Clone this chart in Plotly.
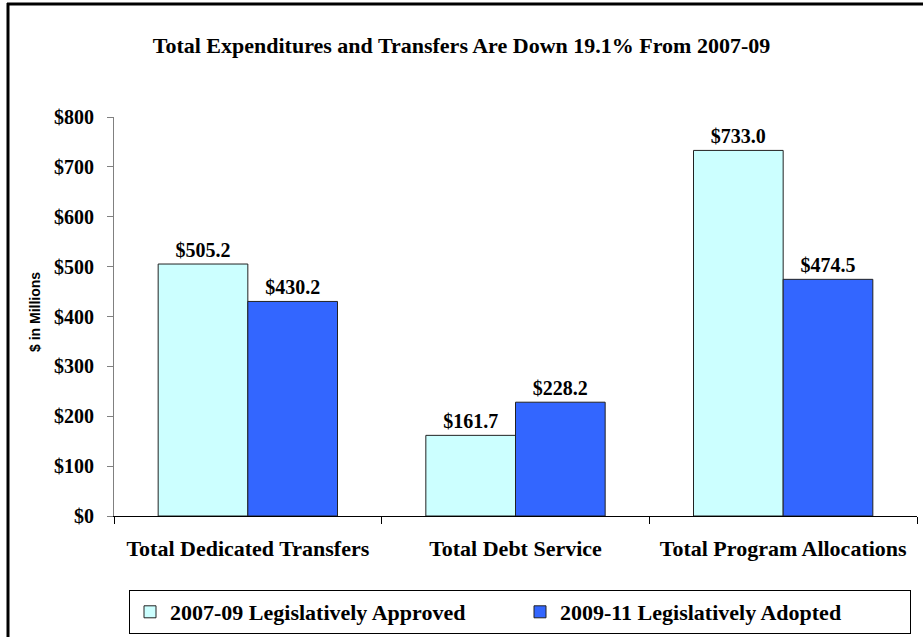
import plotly.graph_objects as go

categories = ["Total Dedicated Transfers", "Total Debt Service", "Total Program Allocations"]
series_names = ["2007-09 Legislatively Approved", "2009-11 Legislatively Adopted"]
approved_2007_09 = [505.2, 161.7, 733.0]
adopted_2009_11 = [430.2, 228.2, 474.5]
y_ticks = [0, 100, 200, 300, 400, 500, 600, 700, 800]
y_tick_labels = ["$" + str(v) for v in y_ticks]

SERIF = "Liberation Serif"
W, H = 923, 637
L, R, T, B = 114, 6, 117, 121
pw, ph = W - L - R, H - T - B

def px_x(x):
    return (x - L) / pw

def px_y(y):
    return (H - B - y) / ph

fig = go.Figure()
for name, vals, color in [(series_names[0], approved_2007_09, "#CCFFFF"),
                          (series_names[1], adopted_2009_11, "#3366FF")]:
    fig.add_trace(go.Bar(
        name=name, x=categories, y=vals,
        marker=dict(color=color, line=dict(color="#222222", width=1)),
        texttemplate="$%{y:.1f}", textposition="outside",
        textfont=dict(family=SERIF, size=20, color="black", weight="bold"),
        cliponaxis=False,
    ))

fig.update_layout(
    width=W, height=H,
    margin=dict(l=L, r=R, t=T, b=B, autoexpand=False),
    paper_bgcolor="white", plot_bgcolor="white",
    barmode="group", bargap=0.33, bargroupgap=0,
    title=dict(text="Total Expenditures and Transfers Are Down 19.1% From 2007-09",
               x=0.5, xref="container", y=1 - 45 / H, yref="container",
               xanchor="center", yanchor="middle",
               font=dict(family=SERIF, size=22, color="black", weight="bold")),
    showlegend=True,
    legend=dict(orientation="h", x=px_x(520), xanchor="center", y=px_y(590), yanchor="top",
                bordercolor="black", borderwidth=1, bgcolor="white",
                font=dict(family=SERIF, size=22, color="black", weight="bold"),
                entrywidth=345, traceorder="normal"),
    xaxis=dict(showline=True, linecolor="black", linewidth=1,
               ticks="outside", tickson="boundaries", ticklen=7, tickcolor="black",
               ticklabelstandoff=13,
               tickfont=dict(family=SERIF, size=22, color="black", weight="bold"),
               showgrid=False, automargin=False),
    yaxis=dict(range=[0, 800], tickvals=y_ticks, ticktext=y_tick_labels,
               showline=True, linecolor="#808080", linewidth=1,
               ticks="outside", ticklen=6, tickcolor="#808080",
               ticklabelstandoff=9,
               tickfont=dict(family=SERIF, size=20, color="black", weight="bold"),
               showgrid=False, zeroline=False, automargin=False),
    annotations=[dict(text="$ in Millions", textangle=-90, x=px_x(35), y=px_y(312),
                      xref="paper", yref="paper", showarrow=False,
                      xanchor="center", yanchor="middle",
                      font=dict(family="Liberation Sans", size=14, color="black", weight="bold"))],
    shapes=[
        dict(type="line", xref="paper", yref="paper", x0=px_x(8), x1=px_x(8),
             y0=px_y(3), y1=px_y(640), line=dict(color="black", width=3)),
        dict(type="line", xref="paper", yref="paper", x0=px_x(7), x1=px_x(926),
             y0=px_y(4), y1=px_y(4), line=dict(color="black", width=3)),
    ],
)

fig.write_html(
    "out.html",
    config={"displayModeBar": False},
    post_script="document.body.style.margin='0';document.body.style.overflow='hidden';",
)
